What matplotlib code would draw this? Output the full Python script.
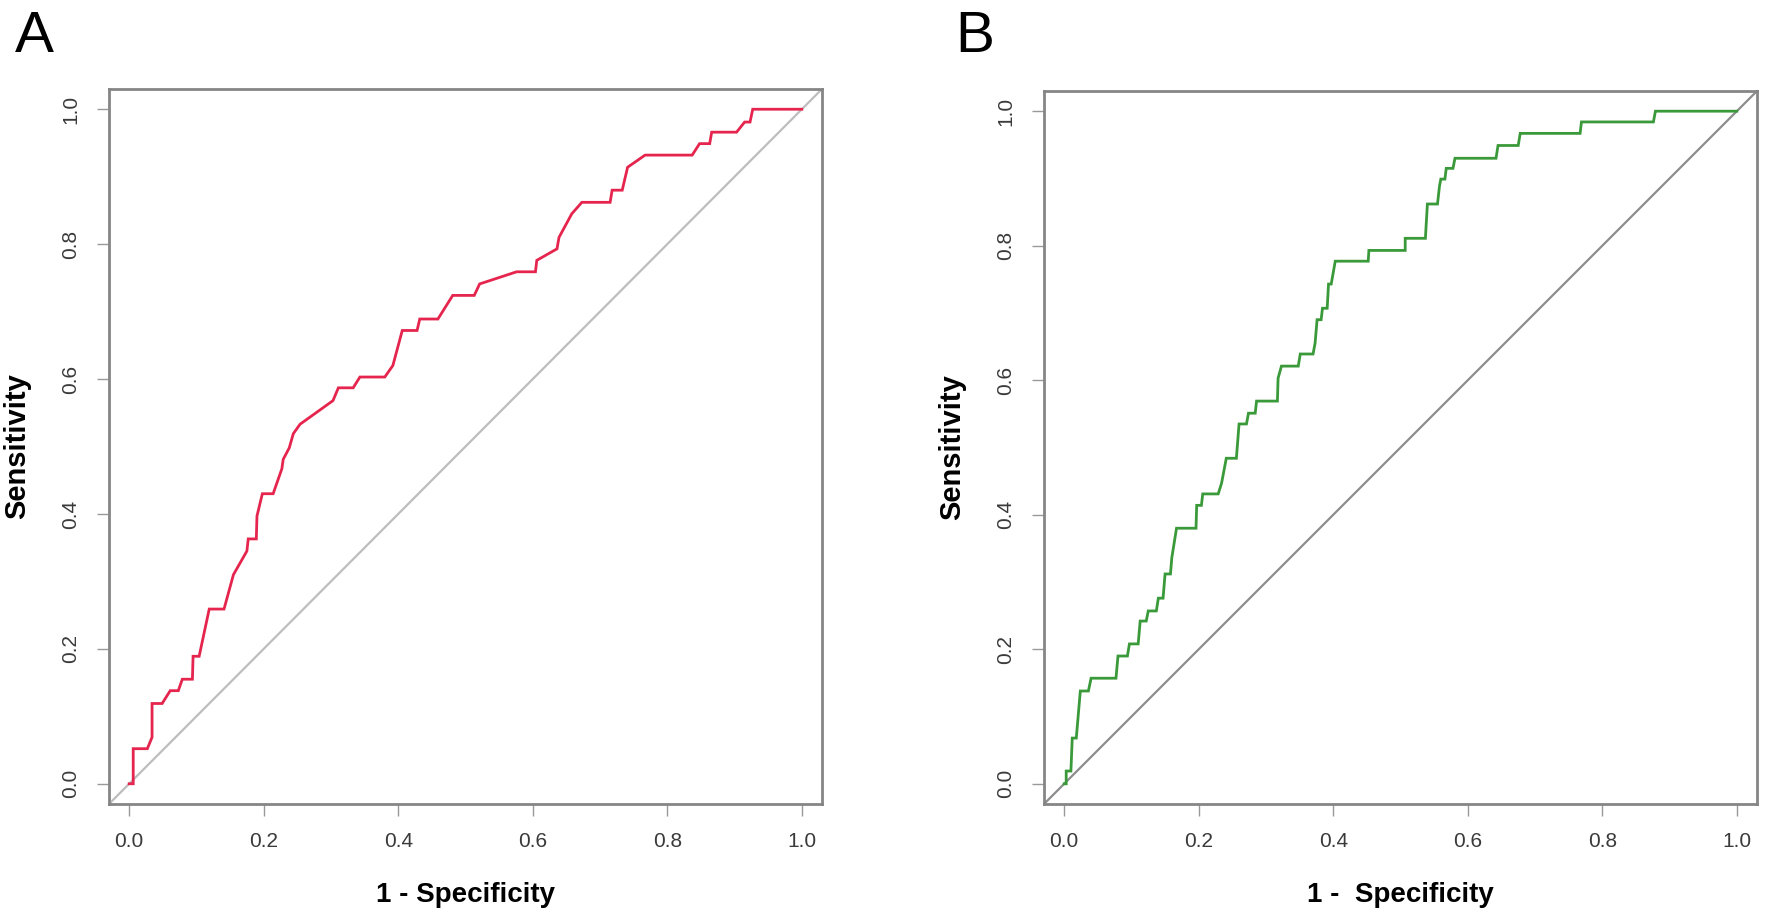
import matplotlib
matplotlib.use("Agg")
import matplotlib.pyplot as plt

plt.rcParams['font.family'] = ['Liberation Sans', 'DejaVu Sans']

# Panel A ROC curve (1 - specificity, sensitivity)
fpr_a = [0.0, 0.006, 0.006, 0.027, 0.034, 0.034, 0.049, 0.061, 0.073, 0.079, 0.094, 0.095,
         0.104, 0.119, 0.141, 0.155, 0.175, 0.177, 0.189, 0.190, 0.198, 0.214, 0.227, 0.229,
         0.238, 0.244, 0.254, 0.303, 0.311, 0.333, 0.343, 0.380, 0.392, 0.406, 0.428, 0.432,
         0.459, 0.481, 0.513, 0.521, 0.576, 0.604, 0.606, 0.636, 0.639, 0.658, 0.673, 0.715,
         0.718, 0.733, 0.741, 0.767, 0.837, 0.848, 0.863, 0.866, 0.903, 0.915, 0.923, 0.927, 1.0]
tpr_a = [0.0, 0.0, 0.052, 0.052, 0.069, 0.119, 0.119, 0.138, 0.138, 0.155, 0.155, 0.189,
         0.189, 0.259, 0.259, 0.310, 0.345, 0.363, 0.363, 0.397, 0.430, 0.430, 0.467, 0.481,
         0.498, 0.519, 0.533, 0.568, 0.587, 0.587, 0.603, 0.603, 0.620, 0.672, 0.672, 0.689,
         0.689, 0.724, 0.724, 0.741, 0.759, 0.759, 0.776, 0.793, 0.810, 0.845, 0.862, 0.862,
         0.880, 0.880, 0.914, 0.932, 0.932, 0.949, 0.949, 0.966, 0.966, 0.981, 0.981, 1.0, 1.0]

# Panel B ROC curve
fpr_b = [0.0, 0.003, 0.003, 0.010, 0.012, 0.018, 0.024, 0.036, 0.040, 0.077, 0.080, 0.094,
         0.097, 0.110, 0.113, 0.122, 0.125, 0.137, 0.140, 0.147, 0.150, 0.158, 0.160, 0.167,
         0.196, 0.197, 0.204, 0.206, 0.229, 0.234, 0.241, 0.256, 0.260, 0.271, 0.274, 0.284,
         0.286, 0.317, 0.318, 0.323, 0.348, 0.351, 0.370, 0.373, 0.376, 0.382, 0.384, 0.391,
         0.393, 0.397, 0.403, 0.452, 0.453, 0.507, 0.507, 0.537, 0.540, 0.555, 0.558, 0.560,
         0.566, 0.568, 0.578, 0.581, 0.642, 0.645, 0.675, 0.678, 0.767, 0.769, 0.876, 0.879, 1.0]
tpr_b = [0.0, 0.0, 0.019, 0.019, 0.068, 0.068, 0.138, 0.138, 0.157, 0.157, 0.190, 0.190,
         0.208, 0.208, 0.242, 0.242, 0.257, 0.257, 0.276, 0.276, 0.312, 0.312, 0.336, 0.380,
         0.380, 0.414, 0.414, 0.431, 0.431, 0.447, 0.484, 0.484, 0.535, 0.535, 0.551, 0.551,
         0.569, 0.569, 0.603, 0.621, 0.621, 0.639, 0.639, 0.655, 0.690, 0.690, 0.707, 0.707,
         0.743, 0.743, 0.777, 0.777, 0.793, 0.793, 0.811, 0.811, 0.862, 0.862, 0.889, 0.899,
         0.899, 0.915, 0.915, 0.930, 0.930, 0.949, 0.949, 0.967, 0.967, 0.984, 0.984, 1.0, 1.0]

ticks = [0.0, 0.2, 0.4, 0.6, 0.8, 1.0]
tick_labels = ["0.0", "0.2", "0.4", "0.6", "0.8", "1.0"]
panel_labels = ["A", "B"]
xlabels = ["1 - Specificity", "1 -  Specificity"]
ylabel = "Sensitivity"

W, H = 1770, 916
fig = plt.figure(figsize=(W / 100, H / 100), dpi=100)

def rect(l, t, r, b):
    return [l / W, (H - b) / H, (r - l) / W, (b - t) / H]

axes_rects = [rect(109, 89, 822, 804), rect(1044, 91, 1757, 804)]
curves = [(fpr_a, tpr_a, '#E5254E', '#BDBDBD'), (fpr_b, tpr_b, '#3A9A3A', '#8C8C8C')]
label_pos = [(15, 52), (955, 52)]

for i, (r, (fx, ty, col, dcol)) in enumerate(zip(axes_rects, curves)):
    ax = fig.add_axes(r)
    ax.set_xlim(-0.03, 1.03)
    ax.set_ylim(-0.03, 1.03)
    ax.axline((0, 0), (1, 1), color=dcol, lw=1.6, zorder=2)
    ax.plot(fx, ty, color=col, lw=2.0, zorder=3, solid_joinstyle='miter')
    ax.set_xticks(ticks)
    ax.set_xticklabels(tick_labels)
    ax.set_yticks(ticks)
    ax.set_yticklabels(tick_labels, rotation=90, va='center')
    ax.tick_params(axis='both', direction='out', length=8.5, width=1.0, color='#999999',
                   labelsize=15, labelcolor='#3a3a3a', pad=12)
    for s in ax.spines.values():
        s.set_color('#858585')
        s.set_linewidth(2.0)
    ax.set_xlabel(xlabels[i], fontsize=20, fontweight='bold', labelpad=22)
    ax.set_ylabel(ylabel, fontsize=21, fontweight='bold', labelpad=22)
    fig.text(label_pos[i][0] / W, 1 - label_pos[i][1] / H, panel_labels[i], fontsize=42,
             ha='left', va='baseline')

fig.savefig("out.png", dpi=100, facecolor='white')
